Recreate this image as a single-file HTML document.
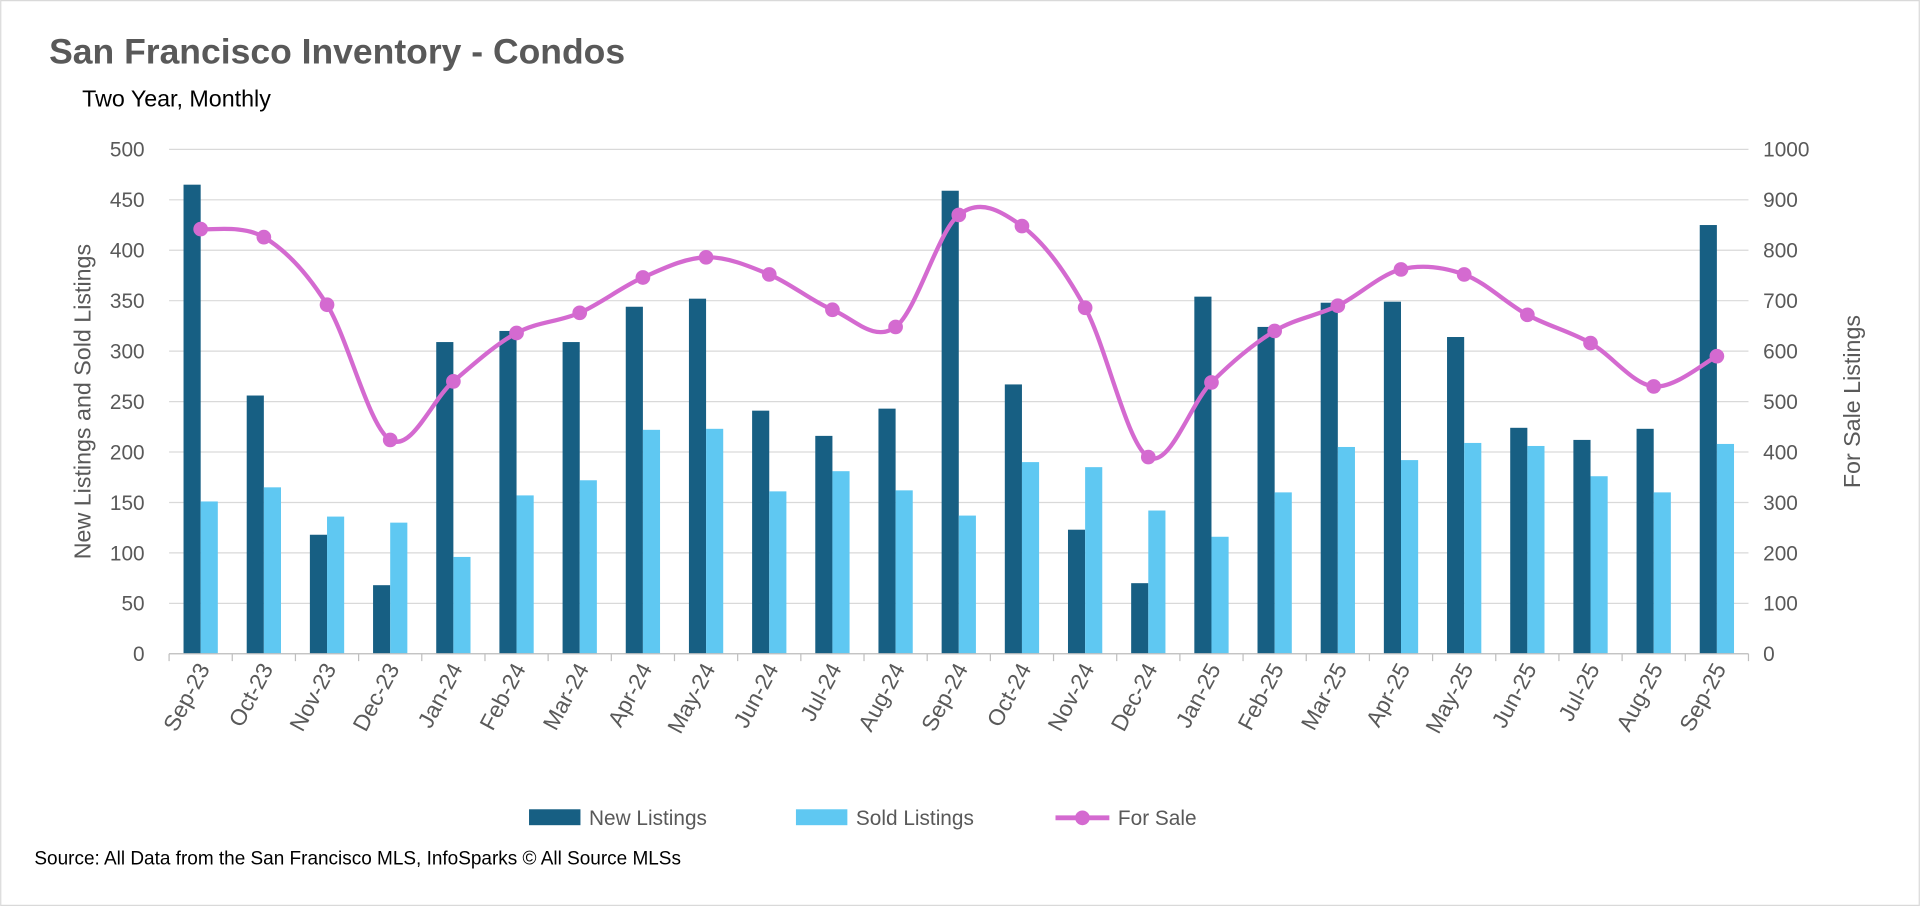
<!DOCTYPE html>
<html><head><meta charset="utf-8"><style>
html,body{margin:0;padding:0;background:#fff;}
svg{display:block;font-family:"Liberation Sans",Arial,sans-serif;}
</style></head><body>
<svg id="chart" width="1920" height="906" viewBox="0 0 1568 740" xmlns="http://www.w3.org/2000/svg">
<rect x="0.5" y="0.5" width="1567" height="739" fill="#fff" stroke="#d9d9d9"/>
<text x="40" y="52" font-size="29" font-weight="bold" fill="#595959">San Francisco Inventory - Condos</text>
<text x="67" y="87" font-size="19" fill="#000">Two Year, Monthly</text>
<g id="grid"></g><g id="bars"></g><g id="line"></g><g id="axes"></g>
<text transform="translate(74,328) rotate(-90)" text-anchor="middle" font-size="19" fill="#595959">New Listings and Sold Listings</text>
<text transform="translate(1519,328) rotate(-90)" text-anchor="middle" font-size="19" fill="#595959">For Sale Listings</text>
<g font-size="17" fill="#595959">
<rect x="432" y="661" width="42" height="13" fill="#175f83"/>
<text x="481" y="674">New Listings</text>
<rect x="650" y="661" width="42" height="13" fill="#5fc8f2"/>
<text x="699" y="674">Sold Listings</text>
<line x1="862" y1="668" x2="906" y2="668" stroke="#d46ad0" stroke-width="4"/>
<circle cx="884" cy="668" r="6" fill="#d46ad0"/>
<text x="913" y="674">For Sale</text>
</g>
<text x="28" y="706" font-size="15.5" fill="#000">Source: All Data from the San Francisco MLS, InfoSparks © All Source MLSs</text>
</svg>
<script>
const categories=["Sep-23","Oct-23","Nov-23","Dec-23","Jan-24","Feb-24","Mar-24","Apr-24","May-24","Jun-24","Jul-24","Aug-24","Sep-24","Oct-24","Nov-24","Dec-24","Jan-25","Feb-25","Mar-25","Apr-25","May-25","Jun-25","Jul-25","Aug-25","Sep-25"];
const newListings=[465,256,118,68,309,320,309,344,352,241,216,243,459,267,123,70,354,324,348,349,314,224,212,223,425];
const soldListings=[151,165,136,130,96,157,172,222,223,161,181,162,137,190,185,142,116,160,205,192,209,206,176,160,208];
const forSale=[842,826,692,424,540,636,676,746,786,752,682,648,870,848,686,390,538,640,690,762,752,672,616,530,590];
const leftTicks=[0,50,100,150,200,250,300,350,400,450,500];
const rightTicks=[0,100,200,300,400,500,600,700,800,900,1000];

const NS="http://www.w3.org/2000/svg";
const X0=138,X1=1428,Y0=534,Y1=122;
const step=(X1-X0)/categories.length;
const xC=i=>X0+step*(i+0.5);
const yL=v=>Y0-(v/500)*(Y0-Y1);
const yR=v=>Y0-(v/1000)*(Y0-Y1);
function mk(tag,attrs,parent){const e=document.createElementNS(NS,tag);for(const k in attrs)e.setAttribute(k,attrs[k]);parent.appendChild(e);return e;}
const grid=document.getElementById('grid'),bars=document.getElementById('bars'),lineG=document.getElementById('line'),axes=document.getElementById('axes');
leftTicks.forEach((t,i)=>{
 const l=mk('line',{x1:X0,x2:X1,y1:yL(t),y2:yL(t),stroke:'#d9d9d9','stroke-width':1},grid);
 
 
 const a=mk('text',{x:118,y:yL(t)+6,'text-anchor':'end','font-size':17,fill:'#595959'},axes);
 a.textContent=t;
 
 
});
rightTicks.forEach(t=>{
 const a=mk('text',{x:1440,y:yR(t)+6,'font-size':17,fill:'#595959'},axes);
 a.textContent=t;
 
 
});
const bw=14;
categories.forEach((c,i)=>{
 const cx=xC(i);
 const b1=mk('rect',{x:cx-bw,y:yL(newListings[i]),width:bw,height:Y0-yL(newListings[i]),fill:'#175f83'},bars);
 
 
 const b2=mk('rect',{x:cx,y:yL(soldListings[i]),width:bw,height:Y0-yL(soldListings[i]),fill:'#5fc8f2'},bars);
 
 
 const t=mk('text',{transform:`translate(${cx+8},546) rotate(-62)`,'text-anchor':'end','font-size':18.5,fill:'#595959'},axes);
 t.textContent=c;
 
 
});
for(let i=0;i<=categories.length;i++){
 const tk=mk('line',{x1:X0+step*i,x2:X0+step*i,y1:Y0,y2:Y0+6,stroke:'#bfbfbf','stroke-width':1},axes);
 
 
}
const ax=mk('line',{x1:X0,x2:X1,y1:Y0,y2:Y0,stroke:'#bfbfbf','stroke-width':1},axes);


const pts=forSale.map((v,i)=>[xC(i),yR(v)]);
let d=`M${pts[0][0]},${pts[0][1]}`;
for(let i=0;i<pts.length-1;i++){
 const p0=pts[Math.max(0,i-1)],p1=pts[i],p2=pts[i+1],p3=pts[Math.min(pts.length-1,i+2)];
 const k=1/6;
 d+=` C${p1[0]+(p2[0]-p0[0])*k},${p1[1]+(p2[1]-p0[1])*k} ${p2[0]-(p3[0]-p1[0])*k},${p2[1]-(p3[1]-p1[1])*k} ${p2[0]},${p2[1]}`;
}
const path=mk('path',{d:d,fill:'none',stroke:'#d46ad0','stroke-width':3.5},lineG);


pts.forEach(p=>{
 const c=mk('circle',{cx:p[0],cy:p[1],r:6,fill:'#d46ad0'},lineG);
 
 
});
</script>
</body></html>
